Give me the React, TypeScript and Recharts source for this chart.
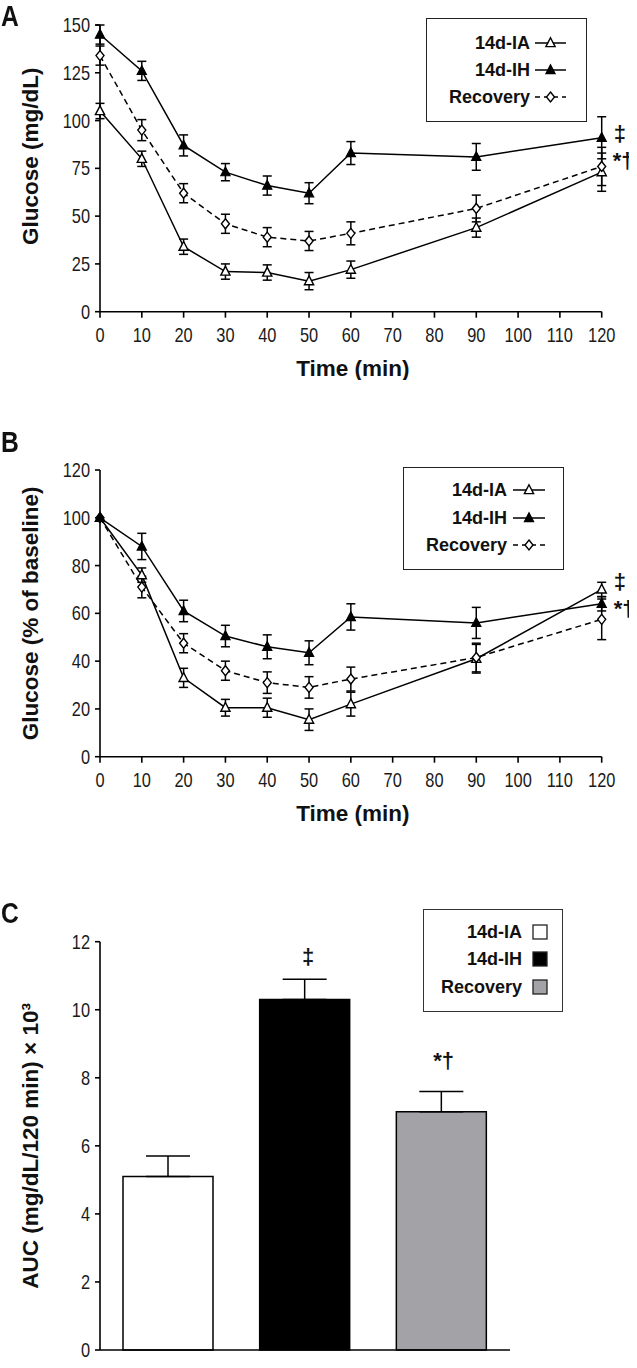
import React from 'react';
import {
  LineChart, Line, XAxis, YAxis, ErrorBar, Legend, ReferenceDot,
  BarChart, Bar, Cell, Label,
} from 'recharts';

// ---------- data ----------
const timePoints = [0, 10, 20, 30, 40, 50, 60, 90, 120];
const timeTicks = [0, 10, 20, 30, 40, 50, 60, 70, 80, 90, 100, 110, 120];
const seriesNames = ['14d-IA', '14d-IH', 'Recovery'];
const panelLetters = ['A', 'B', 'C'];

// Panel A: glucose (mg/dL)
const iaGlucose = [105, 80, 34, 21, 20.5, 16, 22, 44, 73];
const iaGlucoseErr = [4, 4, 4, 4, 4, 4.5, 4.5, 5, 10];
const ihGlucose = [145, 126, 87, 73, 66, 62, 83, 81, 91];
const ihGlucoseErr = [5, 5, 5.5, 4.5, 5, 5.5, 6, 7, 11];
const recGlucose = [134, 95, 62, 46, 39, 37, 41, 54, 76];
const recGlucoseErr = [5, 5.5, 5, 5, 5, 5, 6, 7, 10];
const glucoseTicks = [0, 25, 50, 75, 100, 125, 150];

// Panel B: glucose (% of baseline)
const iaPercent = [100, 76, 33, 20.5, 20.5, 15.5, 22, 41, 70];
const iaPercentErr = [0, 3, 4, 3.5, 4, 4.5, 5, 6, 3];
const ihPercent = [100, 88, 61, 50.5, 46, 43.5, 58.5, 56, 64];
const ihPercentErr = [0, 5.5, 4.5, 4.5, 5, 5, 5.5, 6.5, 3];
const recPercent = [100, 71, 47.5, 36, 31, 29, 32.5, 41.5, 57.5];
const recPercentErr = [0, 4.5, 4, 4, 4.5, 4.5, 5, 6, 8.5];
const percentTicks = [0, 20, 40, 60, 80, 100, 120];

// Panel C: AUC
const aucValues = [5.1, 10.3, 7.0];
const aucErrors = [0.6, 0.6, 0.6];
const aucTicks = [0, 2, 4, 6, 8, 10, 12];
const barColors = ['#ffffff', '#000000', '#a3a3a7'];

// ---------- tables ----------
const dataA = timePoints.map((t, i) => ({
  t,
  ia: iaGlucose[i], iaErr: iaGlucoseErr[i],
  ih: ihGlucose[i], ihErr: ihGlucoseErr[i],
  rec: recGlucose[i], recErr: recGlucoseErr[i],
}));
const dataB = timePoints.map((t, i) => ({
  t,
  ia: iaPercent[i], iaErr: iaPercentErr[i],
  ih: ihPercent[i], ihErr: ihPercentErr[i],
  rec: recPercent[i], recErr: recPercentErr[i],
}));
const dataC = seriesNames.map((name, i) => ({
  name, auc: aucValues[i], err: [0, aucErrors[i]],
}));

// ---------- styles ----------
const FONT = "'Liberation Sans', Arial, Helvetica, sans-serif";
const axisStyle = { stroke: '#000', strokeWidth: 1.6 };

// narrow (condensed) tick labels
const makeTick = (axis: 'x' | 'y') => (props: any) => {
  const { x, y, payload, index } = props;
  return (
    <g key={`tk${axis}${index}`} transform={`translate(${x},${y})`}>
      <text x={0} y={0} transform="scale(0.82,1)" textAnchor={axis === 'x' ? 'middle' : 'end'}
        dy={axis === 'x' ? '0.71em' : '0.355em'} fontFamily={FONT} fontSize={20} fill="#1a1a1a">
        {payload.value}
      </text>
    </g>
  );
};
const xTick = makeTick('x');
const yTick = makeTick('y');

// ---------- markers ----------
const triOpen = (p: any) => {
  const { cx, cy, index } = p;
  if (cx == null || cy == null) return <g key={`to${index}`} />;
  return (
    <path key={`to${index}`} d={`M${cx},${cy - 5.2}L${cx + 4.6},${cy + 3.6}L${cx - 4.6},${cy + 3.6}Z`}
      fill="#fff" stroke="#000" strokeWidth={1.4} />
  );
};
const triFilled = (p: any) => {
  const { cx, cy, index } = p;
  if (cx == null || cy == null) return <g key={`tf${index}`} />;
  return (
    <path key={`tf${index}`} d={`M${cx},${cy - 5.2}L${cx + 4.6},${cy + 3.6}L${cx - 4.6},${cy + 3.6}Z`}
      fill="#000" stroke="#000" strokeWidth={1.2} />
  );
};
const diamond = (p: any) => {
  const { cx, cy, index } = p;
  if (cx == null || cy == null) return <g key={`dm${index}`} />;
  return (
    <path key={`dm${index}`} d={`M${cx},${cy - 5}L${cx + 4},${cy}L${cx},${cy + 5}L${cx - 4},${cy}Z`}
      fill="#fff" stroke="#000" strokeWidth={1.4} />
  );
};

// ---------- labels ----------
const xTitle = (text: string, dy: number) => (props: any) => {
  const vb = props.viewBox || {};
  return (
    <text x={vb.x + vb.width / 2 + 2} y={vb.y + dy} textAnchor="middle"
      fontFamily={FONT} fontWeight="bold" fontSize={22.5} fill="#111">{text}</text>
  );
};
const yTitle = (text: string, shift: number) => (props: any) => {
  const vb = props.viewBox || {};
  const x = 38;
  const y = vb.y + vb.height / 2 + shift;
  return (
    <text x={x} y={y} transform={`rotate(-90 ${x} ${y})`} textAnchor="middle"
      fontFamily={FONT} fontWeight="bold" fontSize={22.5} fill="#111">{text}</text>
  );
};
const annot = (text: string, dx: number, dy: number, anchor: string = 'start') => (p: any) => (
  <text x={p.cx + dx} y={p.cy + dy} textAnchor={anchor} dominantBaseline="central"
    fontFamily={FONT} fontWeight="bold" fontSize={22} fill="#111">{text}</text>
);

// ---------- legends ----------
type LegendGeom = { w: number; h: number; textRight: number; rows: number[]; s0: number; s1: number };
const markerFor = [triOpen, triFilled, diamond];

const LineLegendBox = ({ g }: { g: LegendGeom }) => (
  <div style={{ width: g.w, height: g.h, boxSizing: 'border-box', border: '1.6px solid #222', background: '#fff' }}>
    <svg width={g.w - 3} height={g.h - 3} style={{ display: 'block' }}>
      {seriesNames.map((name, i) => {
        const y = g.rows[i];
        const mid = (g.s0 + g.s1) / 2;
        return (
          <g key={name}>
            <text x={g.textRight} y={y} textAnchor="end" dominantBaseline="central"
              fontFamily={FONT} fontWeight="bold" fontSize={18} fill="#111">{name}</text>
            <line x1={g.s0} y1={y} x2={g.s1} y2={y} stroke="#000" strokeWidth={1.5}
              strokeDasharray={i === 2 ? '5 4' : undefined} />
            {markerFor[i]({ cx: mid, cy: y, index: `lg${i}` })}
          </g>
        );
      })}
    </svg>
  </div>
);

const BarLegendBox = ({ g }: { g: LegendGeom }) => (
  <div style={{ width: g.w, height: g.h, boxSizing: 'border-box', border: '1.6px solid #333', background: '#fff' }}>
    <svg width={g.w - 3} height={g.h - 3} style={{ display: 'block' }}>
      {seriesNames.map((name, i) => {
        const y = g.rows[i];
        return (
          <g key={name}>
            <text x={g.textRight} y={y} textAnchor="end" dominantBaseline="central"
              fontFamily={FONT} fontWeight="bold" fontSize={18} fill="#111">{name}</text>
            <rect x={g.s0} y={y - 7} width={g.s1 - g.s0} height={14} fill={barColors[i]} stroke="#222" strokeWidth={1.3} />
          </g>
        );
      })}
    </svg>
  </div>
);

const legendA: LegendGeom = { w: 161, h: 104, textRight: 103, rows: [24, 51, 78], s0: 108, s1: 139 };
const legendB: LegendGeom = { w: 161, h: 103, textRight: 103, rows: [22, 50, 77], s0: 109, s1: 141 };
const legendC: LegendGeom = { w: 140, h: 103, textRight: 98, rows: [22, 49, 77], s0: 109, s1: 123 };

const letterTops = [2, 428, 899];

function LinePanel({ data, domain, ticks, yLabel, yShift, legend, legendPos, height, margin, children }: any) {
  return (
    <LineChart width={637} height={height} data={data} margin={margin}>
      <XAxis type="number" dataKey="t" domain={[0, 120]} ticks={timeTicks} interval={0} height={60}
        axisLine={axisStyle} tickLine={axisStyle} tickSize={6} tickMargin={10} tick={xTick}
        label={<Label content={xTitle('Time (min)', 64)} />} />
      <YAxis type="number" domain={domain} ticks={ticks} interval={0} width={60}
        axisLine={axisStyle} tickLine={axisStyle} tickSize={5} tickMargin={5} tick={yTick}
        label={<Label content={yTitle(yLabel, yShift)} />} />
      <Line dataKey="ia" stroke="#000" strokeWidth={1.5} dot={triOpen} activeDot={false} isAnimationActive={false}>
        <ErrorBar dataKey="iaErr" width={4.5} stroke="#000" strokeWidth={1.5} direction="y" />
      </Line>
      <Line dataKey="rec" stroke="#000" strokeWidth={1.5} strokeDasharray="6 4" dot={diamond} activeDot={false} isAnimationActive={false}>
        <ErrorBar dataKey="recErr" width={4.5} stroke="#000" strokeWidth={1.5} direction="y" />
      </Line>
      <Line dataKey="ih" stroke="#000" strokeWidth={1.5} dot={triFilled} activeDot={false} isAnimationActive={false}>
        <ErrorBar dataKey="ihErr" width={4.5} stroke="#000" strokeWidth={1.5} direction="y" />
      </Line>
      <Legend layout="vertical" align="center" verticalAlign="middle"
        wrapperStyle={{ left: legendPos[0], top: legendPos[1], width: legend.w, height: legend.h }}
        content={() => <LineLegendBox g={legend} />} />
      {children}
    </LineChart>
  );
}

export default function App() {
  return (
    <>
      <div style={{ position: 'relative', width: 637, height: 1368, margin: -8, background: '#fff', overflow: 'hidden' }}>
        <div style={{ position: 'absolute', left: 0, top: 0 }}>
          <LinePanel data={dataA} domain={[0, 150]} ticks={glucoseTicks} yLabel="Glucose (mg/dL)" yShift={-12}
            legend={legendA} legendPos={[426, 18]} height={380}
            margin={{ top: 25, right: 35.3, bottom: 8.3, left: 40 }}>
            <ReferenceDot x={120} y={ihGlucose[8]} r={0} shape={annot('‡', 12, -4)} />
            <ReferenceDot x={120} y={recGlucose[8]} r={0} shape={annot('*†', 11, -6)} />
          </LinePanel>
        </div>
        <div style={{ position: 'absolute', left: 0, top: 380 }}>
          <LinePanel data={dataB} domain={[0, 120]} ticks={percentTicks} yLabel="Glucose (% of baseline)" yShift={0}
            legend={legendB} legendPos={[403, 87]} height={460}
            margin={{ top: 90, right: 35.3, bottom: 23.3, left: 40 }}>
            <ReferenceDot x={120} y={iaPercent[8]} r={0} shape={annot('‡', 12, -8)} />
            <ReferenceDot x={120} y={ihPercent[8]} r={0} shape={annot('*†', 12, 5)} />
          </LinePanel>
        </div>
        <div style={{ position: 'absolute', left: 0, top: 860 }}>
          <BarChart width={637} height={508} data={dataC} margin={{ top: 81.7, right: 127, bottom: 8, left: 40 }}>
            <XAxis dataKey="name" tick={false} tickLine={false} axisLine={axisStyle} height={10} />
            <YAxis type="number" domain={[0, 12]} ticks={aucTicks} interval={0} width={60}
              axisLine={axisStyle} tickLine={axisStyle} tickSize={5} tickMargin={5} tick={yTick}
              label={<Label content={yTitle('AUC (mg/dL/120 min) × 10³', 0)} />} />
            <Bar dataKey="auc" barSize={90} stroke="#000" strokeWidth={1.5} isAnimationActive={false}>
              {dataC.map((d, i) => <Cell key={d.name} fill={barColors[i]} />)}
              <ErrorBar dataKey="err" width={22} stroke="#000" strokeWidth={1.5} direction="y" />
            </Bar>
            <Legend layout="vertical" align="center" verticalAlign="middle"
              wrapperStyle={{ left: 423, top: 49, width: legendC.w, height: legendC.h }}
              content={() => <BarLegendBox g={legendC} />} />
            <ReferenceDot x="14d-IH" y={aucValues[1] + aucErrors[1]} r={0} shape={annot('‡', 3, -23, 'middle')} />
            <ReferenceDot x="Recovery" y={aucValues[2] + aucErrors[2]} r={0} shape={annot('*†', 2, -31, 'middle')} />
          </BarChart>
        </div>
      </div>
      {panelLetters.map((l, i) => (
        <div key={l} style={{
          position: 'fixed', left: 1, top: letterTops[i], fontFamily: FONT, fontWeight: 'bold',
          fontSize: 29, lineHeight: '29px', color: '#111', transform: 'scaleX(0.85)', transformOrigin: 'left top',
        }}>{l}</div>
      ))}
    </>
  );
}
